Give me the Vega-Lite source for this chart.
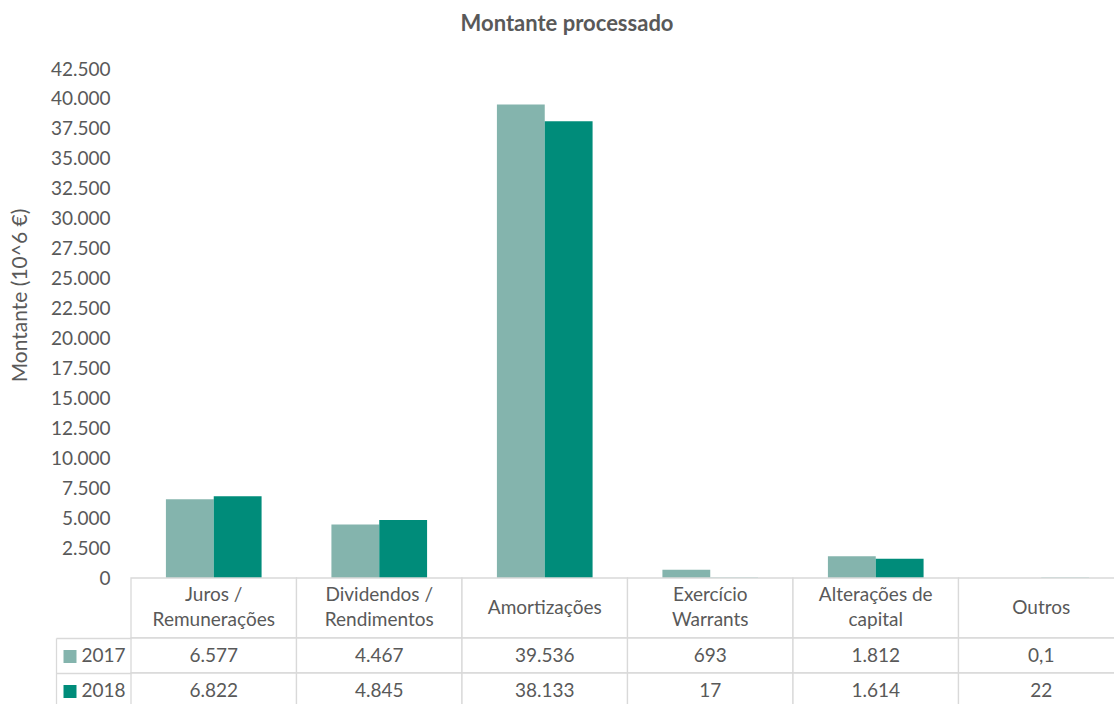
{
  "$schema": "https://vega.github.io/schema/vega-lite/v6.json",
  "padding": {"left": 9, "top": 13, "right": 0, "bottom": 0},
  "title": {"text": "Montante processado", "anchor": "middle", "frame": "bounds", "fontSize": 22, "font": "Lato", "fontWeight": "bold", "color": "#595959", "offset": 24},
  "spacing": 0,
  "bounds": "flush",
  "datasets": {
    "d": [
      {"cat": "Juros /\nRemunerações", "year": "2017", "value": 6577},
      {"cat": "Juros /\nRemunerações", "year": "2018", "value": 6822},
      {"cat": "Dividendos /\nRendimentos", "year": "2017", "value": 4467},
      {"cat": "Dividendos /\nRendimentos", "year": "2018", "value": 4845},
      {"cat": "Amortizações", "year": "2017", "value": 39536},
      {"cat": "Amortizações", "year": "2018", "value": 38133},
      {"cat": "Exercício\nWarrants", "year": "2017", "value": 693},
      {"cat": "Exercício\nWarrants", "year": "2018", "value": 17},
      {"cat": "Alterações de\ncapital", "year": "2017", "value": 1812},
      {"cat": "Alterações de\ncapital", "year": "2018", "value": 1614},
      {"cat": "Outros", "year": "2017", "value": 0.1},
      {"cat": "Outros", "year": "2018", "value": 22}
    ]
  },
  "vconcat": [
    {
      "width": 993,
      "height": 509,
      "data": {"name": "d"},
      "mark": {"type": "bar"},
      "encoding": {
        "x": {"field": "cat", "type": "nominal", "sort": null, "axis": null, "scale": {"paddingInner": 0, "paddingOuter": 0}},
        "xOffset": {"field": "year", "type": "nominal", "sort": null, "scale": {"paddingInner": 0, "paddingOuter": 0.73}},
        "y": {
          "field": "value", "type": "quantitative",
          "scale": {"domain": [0, 42500], "nice": false, "zero": true},
          "axis": {
            "values": [0, 2500, 5000, 7500, 10000, 12500, 15000, 17500, 20000, 22500, 25000, 27500, 30000, 32500, 35000, 37500, 40000, 42500],
            "format": ",.0f", "title": "Montante (10^6 €)", "grid": false, "domain": false, "ticks": false,
            "labelPadding": 21, "titlePadding": 20, "titleY": 226, "titleFontSize": 21
          }
        },
        "color": {"field": "year", "type": "nominal", "scale": {"domain": ["2017", "2018"], "range": ["#84B4AD", "#008C7A"]}, "legend": null}
      }
    },
    {
      "width": 993,
      "height": 60,
      "data": {"name": "d"},
      "transform": [{"filter": "datum.year == '2017'"}],
      "layer": [
        {
          "mark": {"type": "rect", "fill": "white", "stroke": "#d9d9d9", "strokeWidth": 1.3},
          "encoding": {
            "x": {"field": "cat", "type": "nominal", "sort": null, "axis": null, "scale": {"paddingInner": 0, "paddingOuter": 0}}
          }
        },
        {
          "transform": [{"filter": "indexof(datum.cat, '\\n') >= 0"}],
          "mark": {"type": "text", "fontSize": 19, "color": "#595959", "lineBreak": "\n", "lineHeight": 25, "baseline": "line-bottom"},
          "encoding": {
            "x": {"field": "cat", "type": "nominal", "sort": null, "axis": null},
            "text": {"field": "cat"}
          }
        },
        {
          "transform": [{"filter": "indexof(datum.cat, '\\n') < 0"}],
          "mark": {"type": "text", "fontSize": 19, "color": "#595959", "baseline": "middle"},
          "encoding": {
            "x": {"field": "cat", "type": "nominal", "sort": null, "axis": null},
            "text": {"field": "cat"}
          }
        }
      ]
    },
    {
      "width": 993,
      "height": 70,
      "data": {"name": "d"},
      "layer": [
        {
          "mark": {"type": "rect", "fill": "white", "stroke": "#d9d9d9", "strokeWidth": 1.3},
          "encoding": {
            "x": {"field": "cat", "type": "nominal", "sort": null, "axis": null, "scale": {"paddingInner": 0, "paddingOuter": 0}},
            "y": {
              "field": "year", "type": "nominal", "sort": null,
              "scale": {"paddingInner": 0, "paddingOuter": 0},
              "axis": {
                "orient": "left", "offset": 75, "title": null,
                "domain": true, "domainColor": "#d9d9d9", "domainWidth": 1.3,
                "ticks": true, "tickBand": "extent", "tickSize": -75, "tickColor": "#d9d9d9", "tickWidth": 1.3,
                "labelAlign": "left", "labelPadding": 50, "labelBaseline": "middle", "labelFontSize": 19
              }
            }
          }
        },
        {
          "mark": {"type": "text", "fontSize": 19, "color": "#595959", "baseline": "middle"},
          "encoding": {
            "x": {"field": "cat", "type": "nominal", "sort": null, "axis": null},
            "y": {
              "field": "year", "type": "nominal", "sort": null,
              "scale": {"paddingInner": 0, "paddingOuter": 0},
              "axis": {
                "orient": "left", "offset": 68, "title": null,
                "domain": false, "labels": false,
                "ticks": true, "tickSize": -13, "tickWidth": 13,
                "tickColor": {"condition": {"test": "datum.value == '2017'", "value": "#84B4AD"}, "value": "#008C7A"}
              }
            },
            "text": {"field": "value", "type": "quantitative", "format": ","}
          }
        }
      ],
      "resolve": {"scale": {"y": "independent"}, "axis": {"y": "independent"}}
    }
  ],
  "config": {
    "view": {"stroke": null},
    "font": "Lato",
    "locale": {"number": {"decimal": ",", "thousands": ".", "grouping": [3], "currency": ["", " €"]}},
    "axis": {"labelFont": "Lato", "labelFontSize": 19, "labelColor": "#595959", "titleFont": "Lato", "titleFontSize": 19, "titleFontWeight": "normal", "titleColor": "#595959"},
    "text": {"font": "Lato"}
  }
}
